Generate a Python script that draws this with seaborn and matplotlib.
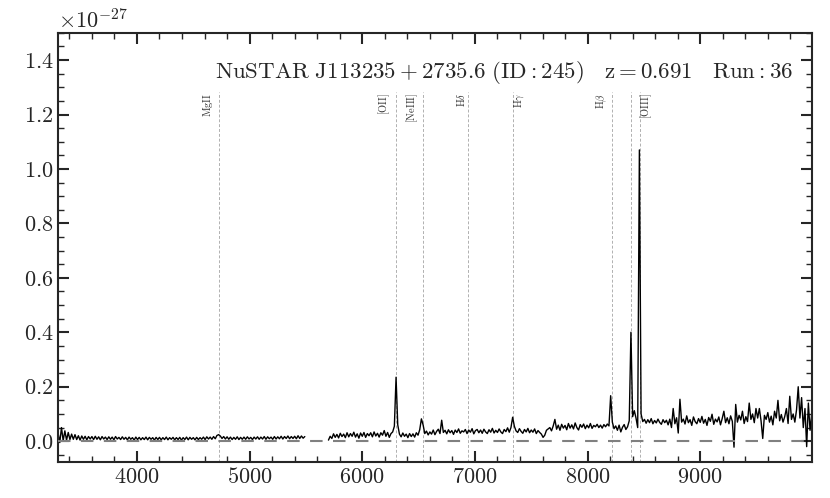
import numpy as np
import pandas as pd
import seaborn as sns
import matplotlib.pyplot as plt
import matplotlib.ticker as ticker

sns.set_style("ticks")
plt.rcParams['font.family'] = 'serif'
plt.rcParams['font.serif'] = ['cmr10']
plt.rcParams['mathtext.fontset'] = 'cm'
plt.rcParams['axes.formatter.use_mathtext'] = True

# flux in units of 1e-27, sampled every 15 A
blue_start = 3300
blue_flux = [
    0.03, -0.005, 0.05, 0.002, 0.038, 0.004, 0.032, 0.006, 0.026, 0.007,
    0.024, 0.006, 0.02, 0.004, 0.019, 0.007, 0.018, 0.005, 0.017, 0.008,
    0.017, 0.006, 0.018, 0.007, 0.016, 0.005, 0.017, 0.008, 0.015, 0.006,
    0.016, 0.007, 0.015, 0.005, 0.017, 0.008, 0.014, 0.006, 0.016, 0.007,
    0.014, 0.005, 0.015, 0.007, 0.013, 0.004, 0.015, 0.006, 0.014, 0.005,
    0.013, 0.006, 0.015, 0.005, 0.014, 0.007, 0.013, 0.004, 0.014, 0.006,
    0.014, 0.005, 0.013, 0.006, 0.015, 0.005, 0.013, 0.007, 0.014, 0.005,
    0.013, 0.006, 0.014, 0.004, 0.013, 0.006, 0.015, 0.005, 0.014, 0.007,
    0.013, 0.005, 0.014, 0.006, 0.013, 0.007, 0.015, 0.006, 0.016, 0.008,
    0.015, 0.007, 0.017, 0.009, 0.021, 0.024, 0.019, 0.01, 0.017, 0.008,
    0.016, 0.007, 0.015, 0.006, 0.014, 0.007, 0.016, 0.006, 0.014, 0.007,
    0.015, 0.007, 0.016, 0.008, 0.014, 0.006, 0.015, 0.008, 0.016, 0.007,
    0.015, 0.008, 0.017, 0.007, 0.016, 0.009, 0.015, 0.007, 0.017, 0.008,
    0.016, 0.009, 0.018, 0.008, 0.017, 0.01, 0.019, 0.009, 0.017, 0.01,
    0.018, 0.009, 0.02, 0.01, 0.019, 0.011, 0.017,
]

red_start = 5700
red_flux = [
    0.004, 0.018, 0.01, 0.027, 0.014, 0.025, 0.012, 0.029, 0.017, 0.026,
    0.013, 0.031, 0.016, 0.028, 0.018, 0.033, 0.015, 0.027, 0.011, 0.03,
    0.018, 0.032, 0.014, 0.028, 0.02, 0.031, 0.016, 0.034, 0.019, 0.029,
    0.015, 0.031, 0.022, 0.039, 0.018, 0.032, 0.014, 0.028, 0.034, 0.055,
    0.235, 0.06, 0.026, 0.016, 0.03, 0.018, 0.026, 0.013, 0.028, 0.017,
    0.027, 0.015, 0.031, 0.022, 0.042, 0.082, 0.06, 0.028, 0.037, 0.023,
    0.034, 0.026, 0.041, 0.024, 0.036, 0.044, 0.028, 0.077, 0.032, 0.04,
    0.027, 0.042, 0.031, 0.039, 0.025, 0.041, 0.032, 0.045, 0.029, 0.038,
    0.034, 0.043, 0.028, 0.041, 0.033, 0.046, 0.027, 0.039, 0.043, 0.031,
    0.041, 0.029, 0.044, 0.034, 0.028, 0.042, 0.033, 0.047, 0.03, 0.04,
    0.032, 0.045, 0.034, 0.028, 0.043, 0.035, 0.049, 0.033, 0.05, 0.088,
    0.055, 0.038, 0.032, 0.046, 0.036, 0.029, 0.043, 0.034, 0.047, 0.031,
    0.041, 0.033, 0.045, 0.028, 0.039, 0.032, 0.026, 0.014, 0.022, 0.04,
    0.045, 0.05, 0.038, 0.056, 0.08, 0.044, 0.059, 0.04, 0.062, 0.048,
    0.058, 0.042, 0.065, 0.048, 0.06, 0.045, 0.067, 0.05, 0.041, 0.061,
    0.051, 0.063, 0.046, 0.059, 0.049, 0.065, 0.047, 0.058, 0.053, 0.062,
    0.05, 0.059, 0.048, 0.061, 0.053, 0.063, 0.056, 0.167, 0.07, 0.046,
    0.056, 0.04, 0.059, 0.034, 0.051, 0.061, 0.043, 0.053, 0.075, 0.40,
    0.09, 0.112, 0.085, 0.05, 1.07, 0.1, 0.072, 0.08, 0.066, 0.079,
    0.068, 0.083, 0.064, 0.076, 0.067, 0.081, 0.069, 0.062, 0.079, 0.068,
    0.077, 0.06, 0.081, 0.05, 0.12, 0.064, 0.086, 0.03, 0.154, 0.07,
    0.081, 0.063, 0.093, 0.068, 0.079, 0.058, 0.089, 0.072, 0.064, 0.083,
    0.069, 0.091, 0.066, 0.08, 0.058, 0.087, 0.073, 0.099, 0.062, 0.081,
    0.071, 0.089, 0.06, 0.083, 0.11, 0.068, 0.086, 0.064, 0.093, 0.073,
    -0.022, 0.135, 0.07, 0.095, 0.078, 0.11, 0.065, 0.09, 0.072, 0.14,
    0.08, 0.1, 0.068, 0.12, 0.085, 0.12, 0.075, 0.01, 0.095, 0.08,
    0.105, 0.07, 0.092, 0.06, 0.11, 0.085, 0.15, 0.075, 0.098, 0.07,
    0.09, 0.12, 0.065, 0.165, 0.08, 0.1, 0.07, 0.115, 0.2, 0.085,
    0.16, 0.05, 0.12, -0.02, 0.14, 0.04, 0.1,
]
step = 15

line_names = ['MgII', '[OII]', '[NeIII]', r'H\delta', r'H\gamma', r'H\beta', None, '[OIII]']
line_waves = [4731, 6302, 6542, 6936, 7340, 8220, 8386, 8467]
label_shift = [-104, -108, -100, -61, 48, -97, 0, 54]

blue = pd.DataFrame({'wave': blue_start + step * np.arange(len(blue_flux)),
                     'flux': np.array(blue_flux) * 1e-27})
red = pd.DataFrame({'wave': red_start + step * np.arange(len(red_flux)),
                    'flux': np.array(red_flux) * 1e-27})

fig, ax = plt.subplots(figsize=(8.3, 4.98), dpi=100)
fig.subplots_adjust(left=0.07, right=0.978, top=0.934, bottom=0.072)

sns.lineplot(data=blue, x='wave', y='flux', ax=ax, color='black', lw=1.0,
             estimator=None, sort=False)
sns.lineplot(data=red, x='wave', y='flux', ax=ax, color='black', lw=1.0,
             estimator=None, sort=False)

ax.axhline(0, color='gray', lw=1.5, ls=(0, (6, 5)), zorder=3)

for name, w, dx in zip(line_names, line_waves, label_shift):
    ax.axvline(w, ymax=0.862, color='#b0b0b0', lw=0.7, ls=(0, (3, 2)), zorder=1)
    if name:
        ax.text(w + dx, 1.28e-27, r'$\rm ' + name + '$', rotation=90,
                ha='center', va='top', fontsize=7.5, color='#333333')

ax.text(0.975, 0.907,
        r'$\rm NuSTAR\ J113235+2735.6\ (ID:245)\quad z=0.691\quad Run:36$',
        transform=ax.transAxes, ha='right', va='center', fontsize=16.5)

ax.set_xlim(3300, 9990)
ax.set_ylim(-0.077e-27, 1.5e-27)
ax.xaxis.set_major_locator(ticker.MultipleLocator(1000))
ax.xaxis.set_minor_locator(ticker.MultipleLocator(200))
ax.yaxis.set_major_locator(ticker.MultipleLocator(0.2e-27))
ax.yaxis.set_minor_locator(ticker.MultipleLocator(0.05e-27))
ax.tick_params(which='both', direction='in', top=True, right=True, labelsize=16)
ax.tick_params(which='major', length=8, width=1.5)
ax.tick_params(which='minor', length=4, width=1.0)
ax.yaxis.get_offset_text().set_fontsize(16)
for s in ax.spines.values():
    s.set_linewidth(1.5)
ax.set_xlabel('')
ax.set_ylabel('')

fig.savefig('out.png', dpi=100)
